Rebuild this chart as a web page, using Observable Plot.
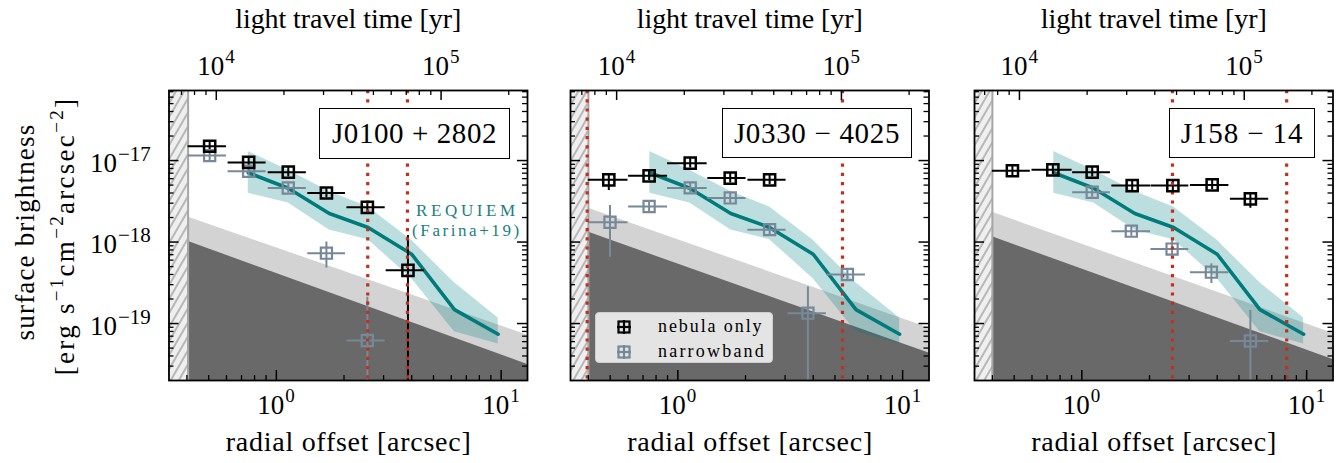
<!DOCTYPE html>
<html><head><meta charset="utf-8">
<script src="https://cdn.jsdelivr.net/npm/d3@7"></script>
<script src="https://cdn.jsdelivr.net/npm/@observablehq/plot@0.6"></script>
<style>
body{margin:0;background:#fff;}
#root{position:relative;width:1343px;height:463px;overflow:hidden;font-family:"Liberation Serif","Times New Roman",serif;color:#000;}
#root svg.panel{position:absolute;top:0;overflow:visible;background:transparent;}
.lbox{position:absolute;box-sizing:border-box;border:1.6px solid #000;background:#fff;font-family:"Liberation Serif",serif;font-size:29px;display:flex;align-items:center;justify-content:center;white-space:nowrap;}
.ylab{position:absolute;transform:translate(-50%,-50%) rotate(-90deg);white-space:nowrap;font-family:"Liberation Serif",serif;font-size:27px;line-height:1;}
.ylab sup{font-size:19px;vertical-align:0;position:relative;top:-11px;line-height:0;}
.legend{position:absolute;box-sizing:border-box;background:rgba(255,255,255,0.82);border:1px solid #cfcfcf;border-radius:4px;font-family:"Liberation Serif",serif;font-size:18px;}
.legend .item{position:absolute;left:0;display:flex;align-items:center;white-space:nowrap;}
</style></head>
<body>
<svg width="0" height="0" style="position:absolute">
  <defs>
    <pattern id="hatch" patternUnits="userSpaceOnUse" width="7" height="7" patternTransform="rotate(30)">
      <rect x="0" y="0" width="7" height="7" fill="#efefef"></rect>
      <line x1="2" y1="0" x2="2" y2="7" stroke="#a9a9a9" stroke-width="1.6"></line>
    </pattern>
  </defs>
</svg>
<div id="root"></div>
<script>
// ---------------- data ----------------
const names = ["J0100 + 2802", "J0330 \u2212 4025", "J158 \u2212 14"];
const xDomain = [0.333, 13.1];          // radial offset [arcsec]
const yDomain = [2.0e-20, 7.24e-17];    // surface brightness
const lttPerArcsec = [18500, 18720, 18950]; // light travel time [yr] per arcsec
const psfLimit = [0.405, 0.40, 0.40];
const redLines = [[2.55, 3.83], [0.395, 5.40], [2.53, 8.15]];

// detection limits (power laws), values at limitR
const limitR = [0.3, 15];
const limitLight = [[2.70e-18, 6.32e-20], [3.44e-18, 7.74e-20], [3.07e-18, 6.64e-20]];
const limitDark  = [[1.374e-18, 2.75e-20], [1.75e-18, 3.79e-20], [1.545e-18, 3.155e-20]];

// REQUIEM stacked profile (Farina+19)
const reqR  = [0.75, 1.13, 1.72, 2.56, 4.0, 6.2, 9.7];
const reqSB = [7.08e-18, 4.57e-18, 2.24e-18, 1.51e-18, 7.08e-19, 1.48e-19, 7.4e-20];
const reqHi = [1.29e-17, 7.59e-18, 4.17e-18, 2.69e-18, 1.05e-18, 3.16e-19, 1.17e-19];
const reqLo = [3.98e-18, 3.02e-18, 1.41e-18, 1.07e-18, 3.55e-19, 7.94e-20, 5.62e-20];
const reqLabel = ["REQUIEM", "(Farina+19)"];
const reqLabelPos = [{r: 6.95, sb: 2.06e-18}, {r: 6.95, sb: 1.17e-18}];

// nebula only (black)
const nebR  = [[0.505, 0.753, 1.13, 1.67, 2.54, 3.85],
               [0.493, 0.745, 1.135, 1.71, 2.56],
               [0.491, 0.743, 1.112, 1.675, 2.54, 3.80, 5.62]];
const nebX1 = [[0.405, 0.61, 0.92, 1.38, 2.06, 3.08],
               [0.40, 0.604, 0.90, 1.36, 2.05],
               [0.40, 0.60, 0.91, 1.36, 2.03, 3.04, 4.58]];
const nebX2 = [[0.60, 0.90, 1.36, 2.03, 3.05, 4.55],
               [0.60, 0.90, 1.35, 2.01, 3.03],
               [0.59, 0.905, 1.34, 2.02, 2.99, 4.51, 6.78]];
const nebSB = [[1.5e-17, 9.5e-18, 7.2e-18, 4.0e-18, 2.67e-18, 4.5e-19],
               [5.8e-18, 6.5e-18, 9.3e-18, 6.1e-18, 5.8e-18],
               [7.5e-18, 7.7e-18, 7.2e-18, 4.93e-18, 4.93e-18, 5.03e-18, 3.39e-18]];
const nebLo = [[1.31e-17, 8.3e-18, 6.3e-18, 3.5e-18, 2.33e-18, 1e-22],
               [4.3e-18, 5.7e-18, 8.1e-18, 5.3e-18, 5.1e-18],
               [6.5e-18, 6.7e-18, 6.3e-18, 4.3e-18, 4.3e-18, 4.4e-18, 2.6e-18]];
const nebHi = [[1.72e-17, 1.09e-17, 8.2e-18, 4.6e-18, 3.06e-18, 1.2e-18],
               [6.7e-18, 7.4e-18, 1.07e-17, 7.0e-18, 6.6e-18],
               [8.6e-18, 8.8e-18, 8.2e-18, 5.65e-18, 5.65e-18, 5.75e-18, 3.9e-18]];

// narrowband (grey)
const nbR  = [[0.505, 0.753, 1.13, 1.67, 2.54],
              [0.499, 0.745, 1.135, 1.71, 2.56, 3.79, 5.68],
              [1.112, 1.66, 2.52, 3.77, 5.62]];
const nbX1 = [[0.405, 0.61, 0.92, 1.38, 2.06],
              [0.40, 0.604, 0.90, 1.36, 2.05, 3.09, 4.61],
              [0.91, 1.36, 2.03, 3.04, 4.58]];
const nbX2 = [[0.60, 0.90, 1.36, 2.03, 3.05],
              [0.60, 0.90, 1.35, 2.01, 3.03, 4.58, 6.83],
              [1.34, 2.02, 2.99, 4.51, 6.78]];
const nbSB = [[1.15e-17, 7.4e-18, 4.6e-18, 7.3e-19, 6.2e-20],
              [1.75e-18, 2.73e-18, 4.62e-18, 3.48e-18, 1.42e-18, 1.34e-19, 4.0e-19],
              [4.08e-18, 1.36e-18, 8.2e-19, 4.27e-19, 6.1e-20]];
const nbLo = [[1.0e-17, 6.45e-18, 4.0e-18, 4.8e-19, 1e-22],
              [6.5e-19, 2.35e-18, 4.0e-18, 3.0e-18, 1.23e-18, 1e-22, 3.4e-19],
              [3.55e-18, 1.18e-18, 6.5e-19, 3.1e-19, 1e-22]];
const nbHi = [[1.32e-17, 8.5e-18, 5.3e-18, 1.0e-18, 2.1e-19],
              [2.8e-18, 3.15e-18, 5.3e-18, 4.0e-18, 1.63e-18, 2.8e-19, 4.7e-19],
              [4.7e-18, 1.56e-18, 1.04e-18, 5.4e-19, 1.45e-19]];

// ticks
const xMajorTicks = [1, 10];
const xMajorExp = ["0", "1"];
const xMinorTicks = [0.4, 0.5, 0.6, 0.7, 0.8, 0.9, 2, 3, 4, 5, 6, 7, 8, 9];
const tMajorTicks = [1e4, 1e5];
const tMajorExp = ["4", "5"];
const tMinorTicks = [6000, 7000, 8000, 9000, 2e4, 3e4, 4e4, 5e4, 6e4, 7e4, 8e4, 9e4, 2e5, 3e5];
const yMajorTicks = [1e-17, 1e-18, 1e-19];
const yMajorExp = ["\u221217", "\u221218", "\u221219"];
const yMinorTicks = [3e-20, 4e-20, 5e-20, 6e-20, 7e-20, 8e-20, 9e-20,
                     2e-19, 3e-19, 4e-19, 5e-19, 6e-19, 7e-19, 8e-19, 9e-19,
                     2e-18, 3e-18, 4e-18, 5e-18, 6e-18, 7e-18, 8e-18, 9e-18,
                     2e-17, 3e-17, 4e-17, 5e-17, 6e-17, 7e-17];
const topTitle = "light travel time [yr]";
const bottomTitle = "radial offset [arcsec]";

// ---------------- layout ----------------
const root = document.getElementById("root");
const FL = [168.5, 570, 974], FW = 358.5, SL = [0, 548, 951], SW = [548, 403, 392];
const MT = 90, MB = 83, H = 463, FH = H - MT - MB;
const FONT = "Liberation Serif, Times New Roman, serif";
const GREY = "#778899", TEAL = "#007b7b", RED = "#c0301c";
const inX = v => v >= xDomain[0] && v <= xDomain[1];
const inY = v => v >= yDomain[0] && v <= yDomain[1];

function fitSvgText(svg, str, len) {
  svg.querySelectorAll("text").forEach(t => {
    if (t.textContent === str) { t.setAttribute("textLength", len); t.setAttribute("lengthAdjust", "spacing"); }
  });
}
function fitHtml(el, target) {
  el.style.letterSpacing = "0px";
  const w = el.offsetWidth;
  const n = el.textContent.length;
  el.style.letterSpacing = ((target - w) / n).toFixed(2) + "px";
}

for (let i = 0; i < 3; i++) {
  const ml = FL[i] - SL[i], mr = SW[i] - ml - FW, K = lttPerArcsec[i];
  const lim = limitR.map((r, j) => ({r, light: limitLight[i][j], dark: limitDark[i][j]}));
  const req = reqR.map((r, j) => ({r, sb: reqSB[j], lo: reqLo[j], hi: reqHi[j]}));
  const neb = nebR[i].map((r, j) => ({r, x1: nebX1[i][j], x2: nebX2[i][j], sb: nebSB[i][j], y1: nebLo[i][j], y2: nebHi[i][j]}));
  const nb = nbR[i].map((r, j) => ({r, x1: nbX1[i][j], x2: nbX2[i][j], sb: nbSB[i][j], y1: nbLo[i][j], y2: nbHi[i][j]}));
  const tMaj = tMajorTicks.map((t, j) => ({x: t / K, e: tMajorExp[j]})).filter(d => inX(d.x));
  const tMin = tMinorTicks.map(t => t / K).filter(inX);

  const marks = [
    Plot.areaY(lim, {x: "r", y1: yDomain[0], y2: "light", fill: "#d3d3d3", clip: true}),
    Plot.areaY(lim, {x: "r", y1: yDomain[0], y2: "dark", fill: "#696969", clip: true}),
    Plot.rect([psfLimit[i]], {x1: xDomain[0], x2: d => d, y1: yDomain[0], y2: yDomain[1], fill: "url(#hatch)"}),
    Plot.ruleX([psfLimit[i]], {x: d => d, stroke: "#a6a6a6", strokeWidth: 2}),
    Plot.areaY(req, {x: "r", y1: "lo", y2: "hi", fill: "#008080", fillOpacity: 0.26, clip: true}),
    Plot.line(req, {x: "r", y: "sb", stroke: TEAL, strokeWidth: 3.6, clip: true}),
    Plot.ruleY(nb, {y: "sb", x1: "x1", x2: "x2", stroke: GREY, strokeWidth: 2, clip: true}),
    Plot.ruleX(nb, {x: "r", y1: "y1", y2: "y2", stroke: GREY, strokeWidth: 2, clip: true}),
    Plot.ruleY(neb, {y: "sb", x1: "x1", x2: "x2", stroke: "#000", strokeWidth: 2, clip: true}),
    Plot.ruleX(neb, {x: "r", y1: "y1", y2: "y2", stroke: "#000", strokeWidth: 2, clip: true}),
    Plot.ruleX(redLines[i], {x: d => d, stroke: RED, strokeWidth: 3.2, strokeDasharray: "3.2,6"}),
    Plot.dot(nb, {x: "r", y: "sb", symbol: "square", r: 6.3, stroke: GREY, strokeWidth: 2.2, fill: "none", clip: true}),
    Plot.dot(neb, {x: "r", y: "sb", symbol: "square", r: 6.3, stroke: "#000", strokeWidth: 2.5, fill: "none", clip: true}),
    Plot.frame({stroke: "#000", strokeWidth: 1.8}),
    Plot.tickX(xMajorTicks.filter(inX), {x: d => d, insetTop: FH - 10, stroke: "#000", strokeWidth: 1.5}),
    Plot.tickX(xMinorTicks.filter(inX), {x: d => d, insetTop: FH - 5, stroke: "#000", strokeWidth: 1.3}),
    Plot.tickX(tMaj, {x: "x", insetBottom: FH - 10, stroke: "#000", strokeWidth: 1.5}),
    Plot.tickX(tMin, {x: d => d, insetBottom: FH - 5, stroke: "#000", strokeWidth: 1.3}),
    Plot.tickY(yMajorTicks.filter(inY), {y: d => d, insetRight: FW - 10, stroke: "#000", strokeWidth: 1.5}),
    Plot.tickY(yMinorTicks.filter(inY), {y: d => d, insetRight: FW - 5, stroke: "#000", strokeWidth: 1.3}),
    Plot.tickY(yMajorTicks.filter(inY), {y: d => d, insetLeft: FW - 10, stroke: "#000", strokeWidth: 1.5}),
    Plot.tickY(yMinorTicks.filter(inY), {y: d => d, insetLeft: FW - 5, stroke: "#000", strokeWidth: 1.3}),
    Plot.text(xMajorTicks, {x: d => d, text: () => "10", frameAnchor: "bottom", dy: 33, dx: 8, textAnchor: "end", lineAnchor: "bottom", fontSize: 27, fontFamily: FONT, fill: "#000"}),
    Plot.text(xMajorTicks, {x: d => d, text: (d, j) => xMajorExp[j], frameAnchor: "bottom", dy: 21, dx: 9, textAnchor: "start", lineAnchor: "bottom", fontSize: 19, fontFamily: FONT, fill: "#000"}),
    Plot.text(tMaj, {x: "x", text: () => "10", frameAnchor: "top", dy: -16, dx: 8, textAnchor: "end", lineAnchor: "bottom", fontSize: 27, fontFamily: FONT, fill: "#000"}),
    Plot.text(tMaj, {x: "x", text: "e", frameAnchor: "top", dy: -28, dx: 9, textAnchor: "start", lineAnchor: "bottom", fontSize: 19, fontFamily: FONT, fill: "#000"}),
    Plot.text([topTitle], {text: d => d, frameAnchor: "top", dy: -63, lineAnchor: "bottom", fontSize: 28, fontFamily: FONT, fill: "#000"}),
    Plot.text([bottomTitle], {text: d => d, frameAnchor: "bottom", dy: 70, lineAnchor: "bottom", fontSize: 28, fontFamily: FONT, fill: "#000"})
  ];
  if (i === 0) {
    marks.push(
      Plot.text(yMajorTicks, {y: d => d, text: () => "10", frameAnchor: "left", dx: -52, dy: 11, textAnchor: "end", lineAnchor: "bottom", fontSize: 27, fontFamily: FONT, fill: "#000"}),
      Plot.text(yMajorTicks, {y: d => d, text: (d, j) => yMajorExp[j], frameAnchor: "left", dx: -51, dy: 0, textAnchor: "start", lineAnchor: "bottom", fontSize: 21, fontFamily: FONT, fill: "#000"}),
      Plot.text(reqLabelPos, {x: "r", y: "sb", text: (d, j) => reqLabel[j], lineAnchor: "bottom", fontSize: 17, fontFamily: FONT, fill: "#1a7f7f"})
    );
  }

  const svg = Plot.plot({
    width: SW[i], height: H,
    marginLeft: ml, marginRight: mr, marginTop: MT, marginBottom: MB,
    x: {type: "log", domain: xDomain, axis: null},
    y: {type: "log", domain: yDomain, axis: null},
    style: {background: "transparent", fontFamily: FONT, overflow: "visible"},
    marks
  });
  svg.classList.add("panel");
  svg.style.left = SL[i] + "px";
  svg.style.maxWidth = "none";
  fitSvgText(svg, topTitle, 226);
  fitSvgText(svg, bottomTitle, 245);
  fitSvgText(svg, reqLabel[0], 99);
  fitSvgText(svg, reqLabel[1], 107);
  root.appendChild(svg);
}

// object name boxes
const boxes = [[319, 108, 191, 51], [722, 108, 190, 50], [1169, 108, 146, 50]];
const boxTextW = [165, 166, 123];
names.forEach((n, i) => {
  const d = document.createElement("div");
  d.className = "lbox";
  const [l, t, w, h] = boxes[i];
  Object.assign(d.style, {left: l + "px", top: t + "px", width: w + "px", height: h + "px"});
  const s = document.createElement("span");
  s.textContent = n;
  d.appendChild(s);
  root.appendChild(d);
  fitHtml(s, boxTextW[i]);
});

// y axis label
const y1 = document.createElement("div");
y1.className = "ylab"; y1.style.left = "25px"; y1.style.top = "232px";
y1.textContent = "surface brightness";
root.appendChild(y1);
fitHtml(y1, 217);
const y2 = document.createElement("div");
y2.className = "ylab"; y2.style.left = "65px"; y2.style.top = "236px";
y2.innerHTML = "[erg s<sup>\u22121</sup>cm<sup>\u22122</sup>arcsec<sup>\u22122</sup>]";
root.appendChild(y2);
fitHtml(y2, 278);

// legend
const legendLabels = ["nebula only", "narrowband"];
const legendTextW = [105, 108];
const legendColors = ["#000", GREY];
const lg = document.createElement("div");
lg.className = "legend";
Object.assign(lg.style, {left: "595px", top: "312px", width: "178px", height: "51px"});
root.appendChild(lg);
legendLabels.forEach((lab, k) => {
  const it = document.createElement("div");
  it.className = "item";
  it.style.top = (k === 0 ? 3 : 28) + "px";
  const c = legendColors[k];
  it.innerHTML = `<svg width="56" height="20" style="display:block"><g stroke="${c}" fill="none" stroke-width="2.2"><rect x="22.5" y="4.5" width="11" height="11"></rect><line x1="21" y1="10" x2="35" y2="10"></line><line x1="28" y1="3" x2="28" y2="17"></line></g></svg>`;
  const s = document.createElement("span");
  s.style.marginLeft = "6px";
  s.textContent = lab;
  it.appendChild(s);
  lg.appendChild(it);
  fitHtml(s, legendTextW[k]);
});
</script>
</body></html>
